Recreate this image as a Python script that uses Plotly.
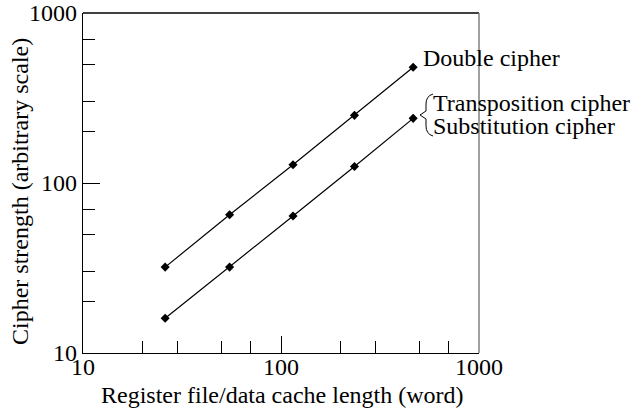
import math
import plotly.graph_objects as go

# ---- data ----
cache_len = [26, 55, 115, 235, 465]
double_cipher = [32, 65, 128, 250, 480]
single_cipher = [16, 32, 64, 125, 240]

major_ticks = [10, 100, 1000]
minor_ticks = [20, 30, 50, 70, 200, 300, 500, 700]

x_title = "Register file/data cache length (word)"
y_title = "Cipher strength (arbitrary scale)"
label_double = "Double cipher"
label_trans = "Transposition cipher"
label_subst = "Substitution cipher"

# ---- layout geometry ----
W, H = 633, 408
L, R, T, B = 83, 154, 13, 55
PW, PH = W - L - R, H - T - B
FONT = "Liberation Serif, Times New Roman, serif"
FS = 24


def px2paper(px, py):
    return (px - L) / PW, (H - B - py) / PH


fig = go.Figure()
for ys in (double_cipher, single_cipher):
    fig.add_trace(go.Scatter(
        x=cache_len, y=ys, mode="lines+markers",
        line=dict(color="black", width=1.2),
        marker=dict(symbol="diamond", size=7, color="black"),
        showlegend=False, hoverinfo="skip", cliponaxis=False,
    ))

axis_common = dict(
    type="log", automargin=False,
    tickvals=major_ticks, ticktext=[str(v) for v in major_ticks],
    ticks="inside", ticklen=17, tickwidth=1.3, tickcolor="black",
    showgrid=False, zeroline=False,
    showline=True, linecolor="black", linewidth=1.3,
    tickfont=dict(family=FONT, size=FS, color="black"),
    minor=dict(tickvals=minor_ticks, ticks="inside", ticklen=12,
               tickwidth=1.3, tickcolor="black", showgrid=False),
)

fig.update_xaxes(range=[1, 3], ticklabelstandoff=-8, **axis_common)
fig.update_yaxes(range=[1, 3], **axis_common)

# top border (black) and right border (grey)
shapes = [
    dict(type="line", xref="paper", yref="paper", x0=0, x1=1, y0=1, y1=1,
         line=dict(color="black", width=1.3), layer="above"),
    dict(type="line", xref="paper", yref="paper", x0=1, x1=1, y0=0, y1=1,
         line=dict(color="#808080", width=1.5), layer="above"),
]

# curly brace grouping the two lower labels
pts = [(433, 94), (426, 96), (426, 104), (426, 111), (420, 115),
       (426, 119), (426, 126), (426, 134), (433, 136)]
pp = [px2paper(*p) for p in pts]
path = (f"M {pp[0][0]},{pp[0][1]} Q {pp[1][0]},{pp[1][1]} {pp[2][0]},{pp[2][1]} "
        f"L {pp[3][0]},{pp[3][1]} L {pp[4][0]},{pp[4][1]} L {pp[5][0]},{pp[5][1]} "
        f"L {pp[6][0]},{pp[6][1]} Q {pp[7][0]},{pp[7][1]} {pp[8][0]},{pp[8][1]}")
shapes.append(dict(type="path", xref="paper", yref="paper", path=path,
                   line=dict(color="black", width=1)))

ann_font = dict(family=FONT, size=FS, color="black")
xl, yd, ys_ = math.log10(cache_len[-1]), math.log10(double_cipher[-1]), math.log10(single_cipher[-1])
annotations = [
    dict(x=xl, y=yd, xref="x", yref="y", text=label_double, showarrow=False,
         xanchor="left", yanchor="middle", xshift=8, yshift=9, font=ann_font),
    dict(x=xl, y=ys_, xref="x", yref="y", text=label_trans, showarrow=False,
         xanchor="left", yanchor="middle", xshift=18, yshift=15, font=ann_font),
    dict(x=xl, y=ys_, xref="x", yref="y", text=label_subst, showarrow=False,
         xanchor="left", yanchor="middle", xshift=18, yshift=-8, font=ann_font),
    dict(x=px2paper(282, 0)[0], y=px2paper(0, 395)[1], xref="paper", yref="paper",
         text=x_title, showarrow=False, xanchor="center", yanchor="middle", font=ann_font),
    dict(x=px2paper(20, 0)[0], y=px2paper(0, 192)[1], xref="paper", yref="paper",
         text=y_title, showarrow=False, textangle=-90, xanchor="center", yanchor="middle",
         font=ann_font),
]

fig.update_layout(
    width=W, height=H,
    margin=dict(l=L, r=R, t=T, b=B),
    paper_bgcolor="white", plot_bgcolor="white",
    shapes=shapes, annotations=annotations,
    font=dict(family=FONT, size=FS, color="black"),
)

fig.write_html("out.html")
